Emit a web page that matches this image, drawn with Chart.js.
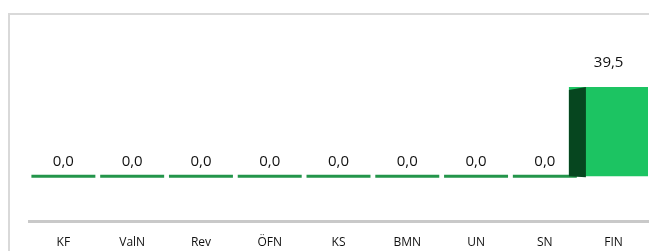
<!DOCTYPE html>
<html><head><meta charset="utf-8">
<script src="https://cdn.jsdelivr.net/npm/chart.js@4/dist/chart.umd.min.js"></script>
<style>
html,body{margin:0;padding:0;background:#fff;}
#wrap{position:relative;width:649px;height:251px;overflow:hidden;}
#frame{position:absolute;left:8px;top:13px;width:700px;height:300px;border-left:2px solid #d9d9d9;border-top:2px solid #d9d9d9;box-sizing:border-box;}
canvas{position:absolute;left:0;top:0;}
</style></head>
<body><div id="wrap"><div id="frame"></div><canvas id="c" width="649" height="251"></canvas></div>
<script>
const categories = ['KF','ValN','Rev','ÖFN','KS','BMN','UN','SN','FIN'];
const flatValues = [0,0,0,0,0,0,0,0,null];
const finValues = [null,null,null,null,null,null,null,null,39.5];
const valueLabels = ['0,0','0,0','0,0','0,0','0,0','0,0','0,0','0,0','39,5'];

const side3d = {
  id:'side3d',
  afterDatasetsDraw(chart){
    const ctx = chart.ctx;
    const meta = chart.getDatasetMeta(1);
    meta.data.forEach((el,i)=>{
      if (finValues[i] == null) return;
      const p = el.getProps(['x','y','base','width'],true);
      const l = p.x - p.width/2;
      ctx.save();
      ctx.fillStyle = '#06461f';
      ctx.beginPath();
      ctx.moveTo(l, p.y+3);
      ctx.lineTo(l+17, p.y);
      ctx.lineTo(l+17, p.base+1);
      ctx.lineTo(l, p.base);
      ctx.closePath();
      ctx.fill();
      ctx.restore();
    });
    ctx.save();
    ctx.font = '15px "Open Sans", sans-serif';
    ctx.fillStyle = '#111';
    ctx.textAlign = 'center';
    ctx.textBaseline = 'bottom';
    [0,1].forEach(d=>{
      chart.getDatasetMeta(d).data.forEach((el,i)=>{
        const v = d===0 ? flatValues[i] : finValues[i];
        if (v == null) return;
        const p = el.getProps(['x','y'],true);
        const off = d===0 ? 9 : 17;
        ctx.fillText(valueLabels[i], d===0 ? p.x : p.x - 5, p.y - off);
      });
    });
    ctx.restore();
  }
};

new Chart(document.getElementById('c'), {
  type:'bar',
  data:{
    labels: categories,
    datasets:[
      {data: flatValues, backgroundColor:'#23954a', minBarLength:3, barPercentage:0.93, categoryPercentage:1, grouped:false},
      {data: finValues, backgroundColor:'#1cc462', barPercentage:1.3, categoryPercentage:1, grouped:false}
    ]
  },
  options:{
    responsive:false, animation:false,
    layout:{padding:{left:29,right:1,top:18,bottom:-5}},
    plugins:{legend:{display:false},tooltip:{enabled:false}},
    scales:{
      x:{
        grid:{display:false},
        border:{display:true,color:'#c9c9c9',width:3},
        ticks:{color:'#111',font:{family:'"Open Sans", sans-serif',size:12},padding:6}
      },
      y:{display:false,min:-20,max:70}
    }
  },
  plugins:[side3d]
});
</script></body></html>
